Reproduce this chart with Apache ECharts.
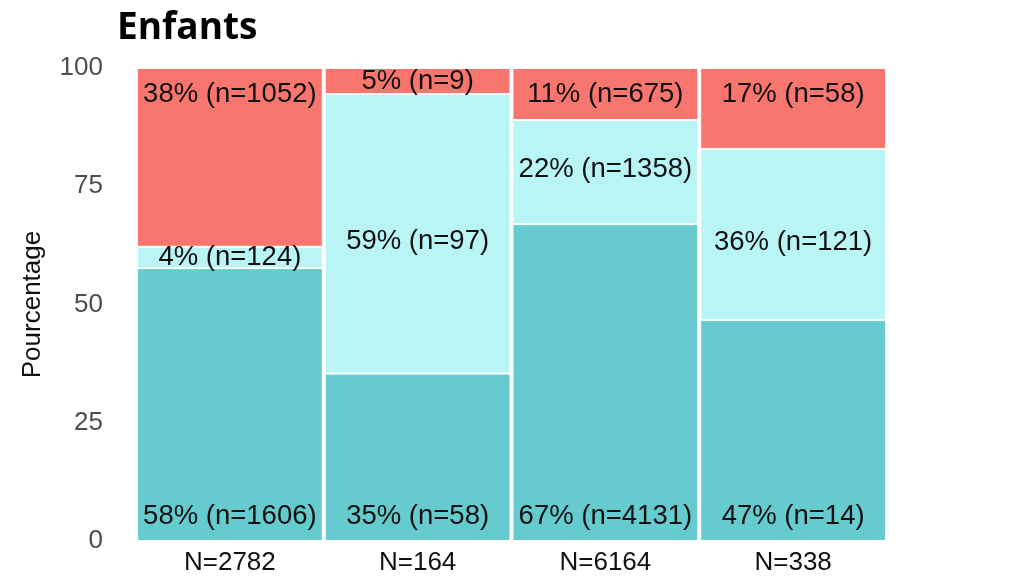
<!DOCTYPE html>
<html>
<head>
<meta charset="utf-8">
<script src="https://cdn.jsdelivr.net/npm/echarts@6/dist/echarts.min.js"></script>
<style>html,body{margin:0;padding:0;background:#fff;}#c{width:1024px;height:576px;}</style>
</head>
<body>
<div id="c"></div>
<script>
var categories = ['N=2782', 'N=164', 'N=6164', 'N=338'];
var tealValues = [57.7, 35.4, 67.0, 46.7];
var cyanValues = [4.5, 59.1, 22.0, 36.2];
var redValues = [37.8, 5.5, 11.0, 17.1];
var tealLabels = ['58% (n=1606)', '35% (n=58)', '67% (n=4131)', '47% (n=14)'];
var cyanLabels = ['4% (n=124)', '59% (n=97)', '22% (n=1358)', '36% (n=121)'];
var redLabels = ['38% (n=1052)', '5% (n=9)', '11% (n=675)', '17% (n=58)'];
var yTicks = [0, 25, 50, 75, 100];

var labelFont = {fontFamily: 'Liberation Sans, Arial, sans-serif', fontSize: 27.5, color: '#111'};

function build(values, labels, pos, extra) {
  return values.map(function (v, i) {
    var lab = Object.assign({show: true, formatter: labels[i], position: pos}, labelFont);
    if (pos === 'insideBottom') lab.distance = 11;
    if (extra) Object.assign(lab, extra(i));
    return {value: v, label: lab};
  });
}

var chart = echarts.init(document.getElementById('c'));
chart.setOption({
  animation: false,
  title: {
    text: 'Enfants', left: 112, top: 5,
    textStyle: {fontFamily: 'Open Sans, sans-serif', fontWeight: 'bold', fontSize: 37, color: '#000'}
  },
  grid: {left: 136, right: 137, top: 68, bottom: 35, containLabel: false, outerBoundsMode: 'none'},
  xAxis: {
    type: 'category', data: categories,
    axisLine: {show: false}, axisTick: {show: false},
    axisLabel: {margin: 9, fontFamily: 'Liberation Sans, Arial, sans-serif', fontSize: 26, color: '#111'}
  },
  yAxis: {
    type: 'value', min: 0, max: 100, interval: 25,
    name: 'Pourcentage', nameLocation: 'middle', nameGap: 90,
    nameTextStyle: {fontFamily: 'Liberation Sans, Arial, sans-serif', fontSize: 26, color: '#111'},
    splitLine: {show: false}, axisLine: {show: false}, axisTick: {show: false},
    axisLabel: {margin: 33, fontFamily: 'Liberation Sans, Arial, sans-serif', fontSize: 26, color: '#4d4d4d',
      formatter: function (v) { return yTicks.indexOf(v) >= 0 ? String(v) : ''; }}
  },
  series: [
    {type: 'bar', stack: 's', barCategoryGap: '1%', itemStyle: {color: '#66CBCF', borderColor: '#fff', borderWidth: 1},
      data: build(tealValues, tealLabels, 'insideBottom')},
    {type: 'bar', stack: 's', itemStyle: {color: '#BAF5F5', borderColor: '#fff', borderWidth: 1},
      data: build(cyanValues, cyanLabels, 'inside', function (i) {
        return (i === 1 || i === 3) ? {offset: [0, 8]} : (i === 2 ? {offset: [0, -3]} : {});
      })},
    {type: 'bar', stack: 's', itemStyle: {color: '#F8766D', borderColor: '#fff', borderWidth: 1},
      data: build(redValues, redLabels, 'insideTop', function (i) {
        return i === 1 ? {position: 'inside', distance: 0} : {position: 'insideTop', distance: 12};
      })}
  ]
});
</script>
</body>
</html>
